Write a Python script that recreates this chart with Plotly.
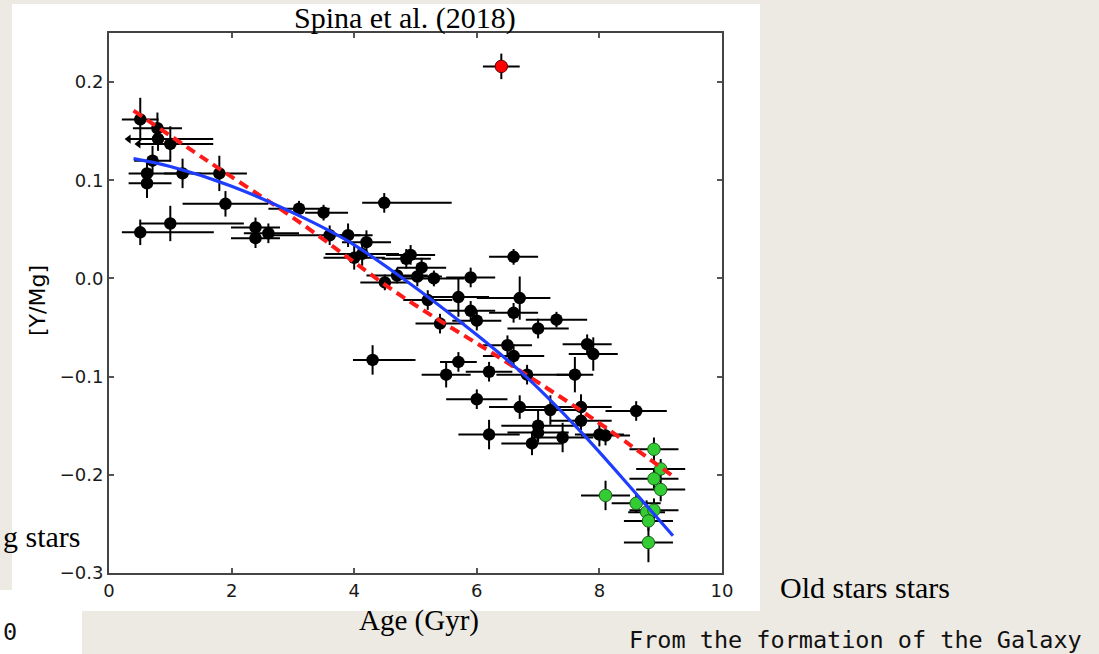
import plotly.graph_objects as go

# ---------------- data ----------------
age = [0.51, 0.79, 0.80, 1.00, 0.71, 0.62, 0.62, 1.20, 1.80, 1.90, 0.51, 1.00,
       2.39, 2.39, 2.60, 3.10, 3.50, 4.49, 3.60, 3.90, 4.20, 4.00, 4.13, 4.50,
       4.70, 4.85, 4.92, 5.10, 5.03, 5.30, 5.90, 5.20, 5.70, 5.90, 6.00, 5.40,
       6.60, 6.70, 6.60, 7.30, 7.00, 4.30, 5.70, 5.50, 6.20, 6.50, 6.60, 6.82,
       7.60, 7.80, 7.90, 6.00, 6.70, 7.20, 7.70, 7.70, 8.60, 6.20, 7.00, 7.00,
       6.90, 7.40, 8.00, 8.10]
ymg = [0.162, 0.153, 0.142, 0.137, 0.120, 0.107, 0.097, 0.107, 0.107, 0.076, 0.047, 0.056,
       0.052, 0.041, 0.046, 0.071, 0.067, 0.077, 0.044, 0.044, 0.037, 0.021, 0.025, -0.004,
       0.003, 0.020, 0.024, 0.011, 0.002, 0.000, 0.001, -0.022, -0.019, -0.033, -0.043, -0.046,
       0.022, -0.020, -0.035, -0.042, -0.051, -0.083, -0.085, -0.098, -0.095, -0.068, -0.079, -0.098,
       -0.098, -0.067, -0.077, -0.123, -0.131, -0.134, -0.131, -0.145, -0.135, -0.159, -0.150, -0.157,
       -0.168, -0.162, -0.159, -0.160]
age_err_lo = [0.30, 0.40, 0.48, 0.52, 0.30, 0.30, 0.30, 0.30, 0.45, 0.70, 0.30, 0.50,
              0.40, 0.40, 0.40, 0.50, 0.30, 0.36, 1.00, 0.40, 0.40, 0.50, 0.60, 0.40,
              0.50, 0.40, 0.40, 0.40, 0.40, 0.50, 0.40, 0.40, 0.50, 0.40, 0.40, 0.40,
              0.40, 0.70, 0.40, 0.50, 0.50, 0.32, 0.30, 0.40, 0.38, 0.40, 0.50, 0.50,
              0.30, 0.40, 0.40, 0.50, 0.50, 0.50, 0.50, 0.50, 0.50, 0.50, 0.60, 0.50,
              0.50, 0.50, 0.40, 0.40]
age_err_hi = [0.30, 0.40, 0.90, 0.70, 0.30, 0.50, 0.40, 0.30, 0.45, 0.70, 1.20, 1.20,
              0.40, 0.40, 0.50, 0.50, 0.40, 1.10, 0.50, 0.40, 0.40, 0.50, 0.60, 0.40,
              0.50, 0.40, 0.40, 0.40, 0.40, 0.50, 0.40, 0.40, 0.50, 0.40, 0.40, 0.40,
              0.40, 0.50, 0.40, 0.50, 0.50, 0.70, 0.30, 0.40, 0.38, 0.40, 0.50, 0.90,
              0.30, 0.40, 0.40, 0.50, 0.50, 0.50, 0.50, 0.50, 0.50, 0.50, 0.60, 0.50,
              0.50, 0.50, 0.40, 0.40]
ymg_err = [0.022, 0.016, 0.012, 0.018, 0.015, 0.012, 0.015, 0.015, 0.018, 0.013, 0.013, 0.018,
           0.010, 0.010, 0.010, 0.008, 0.008, 0.010, 0.010, 0.012, 0.012, 0.012, 0.012, 0.008,
           0.008, 0.010, 0.010, 0.010, 0.010, 0.008, 0.010, 0.010, 0.020, 0.010, 0.010, 0.010,
           0.008, 0.022, 0.010, 0.008, 0.010, 0.015, 0.010, 0.013, 0.010, 0.010, 0.012, 0.010,
           0.018, 0.010, 0.017, 0.010, 0.012, 0.015, 0.013, 0.010, 0.010, 0.015, 0.015, 0.010,
           0.012, 0.015, 0.012, 0.010]
upper_limit_idx = [2, 3]   # stars whose age is only an upper limit (arrow)

old_age = [8.89, 9.00, 8.89, 9.00, 8.10, 8.60, 8.77, 8.89, 8.80, 8.80]
old_ymg = [-0.174, -0.194, -0.204, -0.215, -0.221, -0.229, -0.238, -0.236, -0.247, -0.269]
old_age_err = [0.40, 0.40, 0.40, 0.40, 0.40, 0.40, 0.30, 0.40, 0.40, 0.40]
old_ymg_err = [0.012, 0.010, 0.010, 0.012, 0.015, 0.010, 0.012, 0.012, 0.010, 0.020]

odd_age = [6.40]
odd_ymg = [0.216]
odd_age_err = [0.30]
odd_ymg_err = [0.013]

fit_age = [0.4, 1.0, 2.0, 3.1, 3.9, 4.75, 6.05, 6.82, 7.68, 8.61, 9.2]
fit_ymg = [0.122, 0.114, 0.094, 0.064, 0.038, 0.002, -0.060, -0.101, -0.155, -0.220, -0.262]

lin_age = [0.4, 1.6, 3.07, 4.75, 6.38, 7.85, 9.17]
lin_ymg = [0.171, 0.120, 0.059, -0.017, -0.081, -0.141, -0.200]

x_ticks = [0, 2, 4, 6, 8, 10]
x_ticktext = ["0", "2", "4", "6", "8", "10"]
y_ticks = [-0.3, -0.2, -0.1, 0.0, 0.1, 0.2]
y_ticktext = ["\u22120.3", "\u22120.2", "\u22120.1", "0.0", "0.1", "0.2"]

# ---------------- geometry ----------------
W, H = 1099, 654
ML, MR, MT, MB = 109, 377, 33, 81
PW, PH = W - ML - MR, H - MT - MB


def px(x):
    return (x - ML) / PW


def py(y):
    return (H - MB - y) / PH


BEIGE = "#EDEAE3"
SERIF = "Liberation Serif, Times New Roman, serif"
SANS = "DejaVu Sans, sans-serif"
MONO = "DejaVu Sans Mono, monospace"

fig = go.Figure()

err_common = dict(type="data", color="black", thickness=2, width=0)

# black stars
fig.add_trace(go.Scatter(
    x=age, y=ymg, mode="markers",
    marker=dict(color="black", size=12.5, line=dict(width=0)),
    error_x=dict(array=age_err_hi, arrayminus=age_err_lo, symmetric=False, **err_common),
    error_y=dict(array=ymg_err, **err_common),
    showlegend=False, hoverinfo="skip"))

# upper-limit arrows
fig.add_trace(go.Scatter(
    x=[age[i] - age_err_lo[i] for i in upper_limit_idx],
    y=[ymg[i] for i in upper_limit_idx],
    mode="markers",
    marker=dict(symbol="triangle-left", color="black", size=8),
    showlegend=False, hoverinfo="skip"))

# old (green) stars
fig.add_trace(go.Scatter(
    x=old_age, y=old_ymg, mode="markers",
    marker=dict(color="#33CC33", size=12.5, line=dict(width=1, color="#1b5e1b")),
    error_x=dict(array=old_age_err, **err_common),
    error_y=dict(array=old_ymg_err, **err_common),
    showlegend=False, hoverinfo="skip"))

# outlier (red)
fig.add_trace(go.Scatter(
    x=odd_age, y=odd_ymg, mode="markers",
    marker=dict(color="#FF0000", size=12.5, line=dict(width=1, color="#5a0000")),
    error_x=dict(array=odd_age_err, **err_common),
    error_y=dict(array=odd_ymg_err, **err_common),
    showlegend=False, hoverinfo="skip"))

# fits
fig.add_trace(go.Scatter(
    x=lin_age, y=lin_ymg, mode="lines",
    line=dict(color="#FF1A1A", width=4, dash="10px,6px", shape="spline"),
    showlegend=False, hoverinfo="skip"))
fig.add_trace(go.Scatter(
    x=fit_age, y=fit_ymg, mode="lines",
    line=dict(color="#1F3DFF", width=3.2, shape="spline", smoothing=1.0),
    showlegend=False, hoverinfo="skip"))

axis_common = dict(
    showgrid=False, zeroline=False, showline=True, linecolor="#444", linewidth=2,
    mirror="ticks", ticks="inside", ticklen=5, tickwidth=1.5, tickcolor="#555",
    tickfont=dict(family=SANS, size=18, color="#1a1a1a"), automargin=False,
)

fig.update_layout(
    width=W, height=H,
    margin=dict(l=ML, r=MR, t=MT, b=MB, pad=0),
    paper_bgcolor=BEIGE, plot_bgcolor="white",
    xaxis=dict(range=[0, 10], tickvals=x_ticks, ticktext=x_ticktext, **axis_common),
    yaxis=dict(range=[-0.3, 0.25], tickvals=y_ticks, ticktext=y_ticktext, **axis_common),
    shapes=[
        dict(type="rect", xref="paper", yref="paper", layer="below",
             x0=px(12), x1=px(760), y0=py(611), y1=py(4),
             fillcolor="white", line=dict(width=0)),
        dict(type="rect", xref="paper", yref="paper", layer="below",
             x0=px(0), x1=px(82), y0=py(654), y1=py(590),
             fillcolor="white", line=dict(width=0)),
    ],
    annotations=[
        dict(text="Spina et al. (2018)", xref="paper", yref="paper",
             x=px(405), y=py(18), xanchor="center", yanchor="middle", showarrow=False,
             font=dict(family=SERIF, size=30, color="black")),
        dict(text="Age (Gyr)", xref="paper", yref="paper",
             x=px(419), y=py(620), xanchor="center", yanchor="middle", showarrow=False,
             font=dict(family=SERIF, size=29, color="black")),
        dict(text="[Y/Mg]", xref="paper", yref="paper", textangle=-90,
             x=px(37), y=py(301), xanchor="center", yanchor="middle", showarrow=False,
             font=dict(family=SANS, size=22, color="black")),
        dict(text="Old stars stars", xref="paper", yref="paper",
             x=px(778), y=py(587), xanchor="left", yanchor="middle", showarrow=False,
             font=dict(family=SERIF, size=30, color="black")),
        dict(text="From the formation of the Galaxy", xref="paper", yref="paper",
             x=px(627), y=py(640), xanchor="left", yanchor="middle", showarrow=False,
             font=dict(family=MONO, size=23.5, color="#111")),
        dict(text="g stars", xref="paper", yref="paper",
             x=px(1), y=py(536), xanchor="left", yanchor="middle", showarrow=False,
             font=dict(family=SERIF, size=30, color="black")),
        dict(text="0", xref="paper", yref="paper",
             x=px(1), y=py(632), xanchor="left", yanchor="middle", showarrow=False,
             font=dict(family=MONO, size=23.5, color="#111")),
    ],
)

fig.write_html("out.html")
